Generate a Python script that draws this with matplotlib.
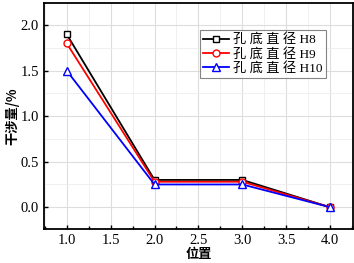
import matplotlib
matplotlib.use('Agg')
import matplotlib.pyplot as plt
from matplotlib.ticker import MultipleLocator

plt.rcParams['font.family'] = ['Liberation Serif', 'Noto Sans CJK SC']

pos = [1.0, 2.0, 3.0, 4.0]
h8 = [1.9, 0.3, 0.3, 0.0]
h9 = [1.8, 0.28, 0.28, 0.0]
h10 = [1.5, 0.25, 0.25, 0.0]
labels = ['孔 底 直 径 H8', '孔 底 直 径 H9', '孔 底 直 径 H10']
xticks = [1.0, 1.5, 2.0, 2.5, 3.0, 3.5, 4.0]
yticks = [0.0, 0.5, 1.0, 1.5, 2.0]

fig = plt.figure(figsize=(3.54, 2.63), dpi=100)
ax = fig.add_axes([0.124, 0.129, 0.873, 0.860])

ax.plot(pos, h8, '-s', color='black', lw=1.3, ms=5, mfc='white', mew=1.0, label=labels[0])
ax.plot(pos, h9, '-o', color='red', lw=1.3, ms=5, mfc='white', mew=1.0, label=labels[1])
ax.plot(pos, h10, '-^', color='blue', lw=1.3, ms=5.5, mfc='white', mew=1.0, label=labels[2])

ax.set_xlim(0.74, 4.26)
ax.set_ylim(-0.24, 2.245)
ax.set_xticks(xticks)
ax.set_yticks(yticks)
ax.set_xticklabels(['%.1f' % v for v in xticks])
ax.set_yticklabels(['%.1f' % v for v in yticks])
ax.xaxis.set_minor_locator(MultipleLocator(0.25))
ax.yaxis.set_minor_locator(MultipleLocator(0.25))
ax.grid(which='major', color='#dddddd', lw=0.8)
ax.grid(which='minor', color='#eeeeee', lw=0.6)
ax.set_axisbelow(True)
ax.tick_params(which='both', direction='in', labelsize=10.5, width=1.0)
ax.tick_params(which='major', length=3)
ax.tick_params(which='minor', length=2)
ax.tick_params(axis='y', which='minor', length=0)
for s in ax.spines.values():
    s.set_linewidth(1.3)

ax.set_xlabel('位置', fontsize=9.5, fontweight='bold', family='Noto Sans CJK SC', labelpad=0)
ax.set_ylabel('干涉量/%', fontsize=9.5, fontweight='bold', family='Noto Sans CJK SC', labelpad=1)

leg = ax.legend(loc='upper right', bbox_to_anchor=(0.913, 0.88), borderaxespad=0,
                fancybox=False, edgecolor='#666666', handlelength=2.0, handletextpad=0.3,
                labelspacing=0.1, borderpad=0.25,
                prop={'family': ['Liberation Serif', 'Noto Sans CJK SC'], 'size': 9.5})
leg.get_frame().set_linewidth(0.8)

plt.savefig('out.png', dpi=100)
